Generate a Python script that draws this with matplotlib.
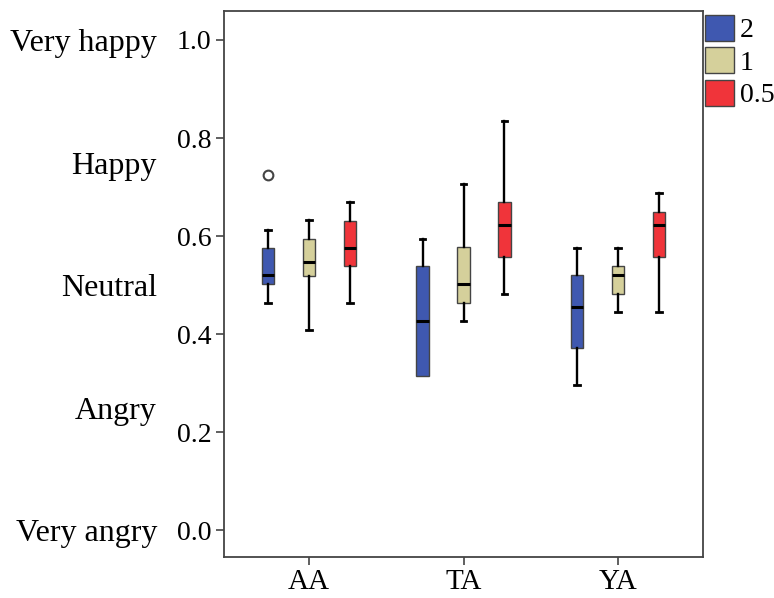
import matplotlib.pyplot as plt
from matplotlib.patches import Patch

# categories and groups
groups = ["AA", "TA", "YA"]
series = ["2", "1", "0.5"]
colours = ["#3F58B0", "#D5D09B", "#F0343A"]

# box statistics per series, one value per group (AA, TA, YA)
whislo_2 = [0.464, 0.315, 0.297]
q1_2 = [0.502, 0.315, 0.372]
med_2 = [0.520, 0.427, 0.455]
q3_2 = [0.576, 0.539, 0.520]
whishi_2 = [0.612, 0.595, 0.576]
fliers_2 = [[0.724], [], []]

whislo_1 = [0.408, 0.427, 0.446]
q1_1 = [0.519, 0.464, 0.482]
med_1 = [0.548, 0.502, 0.520]
q3_1 = [0.594, 0.577, 0.539]
whishi_1 = [0.632, 0.706, 0.576]
fliers_1 = [[], [], []]

whislo_05 = [0.464, 0.483, 0.446]
q1_05 = [0.539, 0.557, 0.557]
med_05 = [0.576, 0.622, 0.622]
q3_05 = [0.631, 0.669, 0.650]
whishi_05 = [0.669, 0.835, 0.687]
fliers_05 = [[], [], []]

emotion_labels = ["Very happy", "Happy", "Neutral", "Angry", "Very angry"]
emotion_pos = [1.0, 0.75, 0.5, 0.25, 0.0]

stats_all = [
    (whislo_2, q1_2, med_2, q3_2, whishi_2, fliers_2),
    (whislo_1, q1_1, med_1, q3_1, whishi_1, fliers_1),
    (whislo_05, q1_05, med_05, q3_05, whishi_05, fliers_05),
]

plt.rcParams["font.family"] = ["Liberation Serif", "DejaVu Serif"]

fig = plt.figure(figsize=(7.74, 5.98), dpi=100)
ax = fig.add_axes([0.2894, 0.0686, 0.6189, 0.913])

offset = 0.265
for s, (lo, q1, med, q3, hi, fl) in enumerate(stats_all):
    stats = []
    for g in range(len(groups)):
        stats.append({"whislo": lo[g], "q1": q1[g], "med": med[g],
                      "q3": q3[g], "whishi": hi[g], "fliers": fl[g]})
    pos = [g + (s - 1) * offset for g in range(len(groups))]
    bp = ax.bxp(stats, positions=pos, widths=0.08, patch_artist=True,
                showfliers=True, capwidths=0.035,
                boxprops=dict(facecolor=colours[s], edgecolor="#444444", linewidth=1.0),
                medianprops=dict(color="black", linewidth=2.2),
                whiskerprops=dict(color="black", linewidth=1.7),
                capprops=dict(color="black", linewidth=2.0),
                flierprops=dict(marker="o", markerfacecolor="white",
                                markeredgecolor="#444444", markersize=7,
                                markeredgewidth=1.5))
    # no lower whisker where it coincides with the box
    for g in range(len(groups)):
        if lo[g] >= q1[g]:
            bp["caps"][2 * g].set_visible(False)

ax.set_xlim(-0.55, 2.55)
ax.set_ylim(-0.054, 1.059)
ax.set_xticks(range(len(groups)))
ax.set_xticklabels(groups, fontsize=21)
ax.set_yticks([0.0, 0.2, 0.4, 0.6, 0.8, 1.0])
ax.set_yticklabels(["0.0", "0.2", "0.4", "0.6", "0.8", "1.0"], fontsize=20)
ax.tick_params(axis="both", length=6, width=1.2, color="#444444", pad=3)
for sp in ax.spines.values():
    sp.set_color("#444444")
    sp.set_linewidth(1.3)

for lab, y in zip(emotion_labels, emotion_pos):
    ax.text(-0.14, y, lab, transform=ax.get_yaxis_transform(),
            ha="right", va="center_baseline", fontsize=23)

handles = [Patch(facecolor=c, edgecolor="#444444", linewidth=1.0) for c in colours]
fig.legend(handles, series, loc="upper left", bbox_to_anchor=(0.911, 0.975),
           frameon=False, fontsize=20, handlelength=1.05, handleheight=1.05,
           handletextpad=0.2, labelspacing=0.15, borderpad=0.0, borderaxespad=0.0)

fig.savefig("out.png", dpi=100)
